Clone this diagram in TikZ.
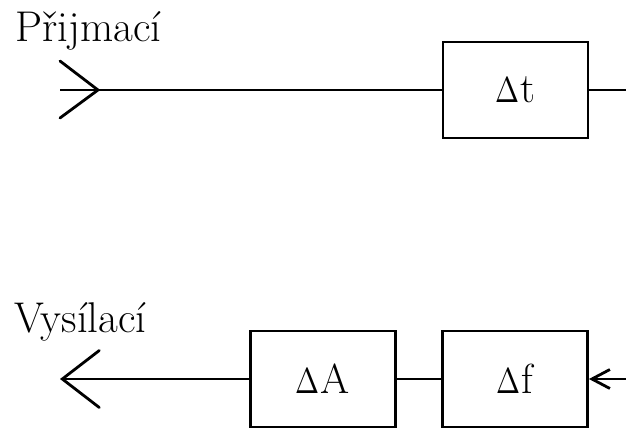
\documentclass[tikz,border=0pt]{standalone}
\usepackage{unicode-math}
\usetikzlibrary{arrows.meta,calc}
% a narrower, lighter delta for the block labels
\newcommand{\dlt}{{\fontsize{36}{40}\selectfont\scalebox{0.8}[1]{$\Delta$}}\kern1pt}
\begin{document}
\begin{tikzpicture}[x=1pt,y=-1pt,
  line width=2.8pt,
  block/.style={draw,rectangle,minimum width=145pt,minimum height=96pt,inner sep=0pt,
    font=\fontsize{42}{48}\selectfont},
  caption/.style={anchor=base west,inner sep=0pt,font=\fontsize{43}{50}\selectfont},
  wing/.style={line cap=round,line join=miter}]
\useasboundingbox (0,0) rectangle (626,428);

% receive path
\node[caption] (rxlabel) at (14,42) {Přijmací};
\node[block] (dt) at (515.5,90) {\dlt t};
\coordinate (rxstart) at (60,90);
\coordinate (rxtip) at (98,90);
\coordinate (rxend) at (627,90);
\draw (rxstart) -- (dt.west);
\draw (dt.east) -- (rxend);
\draw[wing] ($(rxtip)+(-38,-29)$) -- (rxtip) -- ($(rxtip)+(-38,28)$);

% transmit path
\node[caption] (txlabel) at (13,332) {Vysílací};
\node[block] (dA) at (323,379) {\dlt A};
\node[block] (df) at (515,379) {\dlt f};
\coordinate (txend) at (60,379);
\coordinate (txin) at (627,379);
\draw (df.west) -- (dA.east);
\draw[-{Straight Barb[length=37pt,width=57pt,line cap=round]}] (dA.west) -- (txend);
\draw[-{Straight Barb[length=18pt,width=19pt]}] (txin) -- (df.east);
\end{tikzpicture}
\end{document}
